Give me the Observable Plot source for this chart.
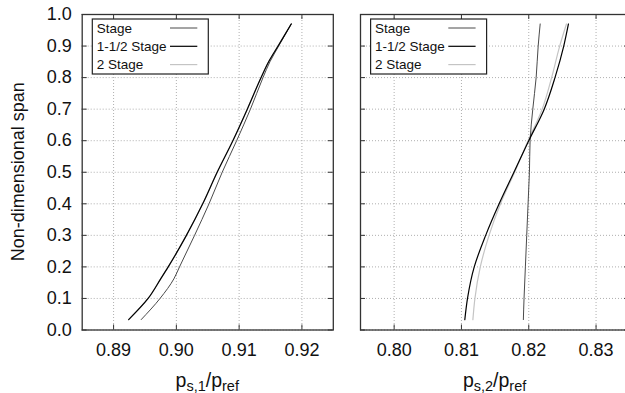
<!DOCTYPE html>
<html><head><meta charset="utf-8">
<script src="https://cdn.jsdelivr.net/npm/d3@7"></script>
<script src="https://cdn.jsdelivr.net/npm/@observablehq/plot@0.6"></script>
<style>
html,body{margin:0;padding:0;background:#fff;overflow:hidden;}
#chart{position:relative;width:625px;height:393px;overflow:hidden;font-family:"Liberation Sans",Arial,Helvetica,sans-serif;}
#chart svg{position:absolute;top:0;}
</style></head><body><div id="chart"></div>
<script>
// ---- data ----
const seriesNames = ["Stage", "1-1/2 Stage", "2 Stage"];
const xTicksL = [0.89, 0.90, 0.91, 0.92];
const xTicksR = [0.80, 0.81, 0.82, 0.83];
const yTicks = [0.0, 0.1, 0.2, 0.3, 0.4, 0.5, 0.6, 0.7, 0.8, 0.9, 1.0];

const spanL = [0.033, 0.1, 0.162, 0.2, 0.3, 0.4, 0.5, 0.6, 0.7, 0.8, 0.85, 0.9, 0.97];
const stageL = [0.8944, 0.8974, 0.8996, 0.9005, 0.9029, 0.9052, 0.9073, 0.9096, 0.9118, 0.9138, 0.9149, 0.9163, 0.9183];
const oneHalfL = [0.8924, 0.8955, 0.8975, 0.8987, 0.9016, 0.9042, 0.9065, 0.9090, 0.9113, 0.9135, 0.9147, 0.9162, 0.9183];
const twoL = [0.8924, 0.8955, 0.8975, 0.8987, 0.9016, 0.9042, 0.9065, 0.9090, 0.9113, 0.9135, 0.9147, 0.9162, 0.9183];

const spanR = [0.033, 0.1, 0.2, 0.3, 0.4, 0.5, 0.6, 0.7, 0.8, 0.9, 0.97];
const stageR = [0.8192, 0.8193, 0.8195, 0.8197, 0.8199, 0.8201, 0.8202, 0.8206, 0.8211, 0.8214, 0.8217];
const oneHalfR = [0.8105, 0.8109, 0.8119, 0.8136, 0.8156, 0.8178, 0.8200, 0.8223, 0.8239, 0.8252, 0.8259];
const twoR = [0.8117, 0.8120, 0.8128, 0.8141, 0.8158, 0.8179, 0.8199, 0.8220, 0.8234, 0.8246, 0.8256];

// ---- styles ----
const colors = {"Stage": "#4a4a4a", "1-1/2 Stage": "#000", "2 Stage": "#c4c4c4"};
const widths = {"Stage": 1, "1-1/2 Stage": 1.2, "2 Stage": 1.2};
const FONT = '"Liberation Sans", Arial, Helvetica, sans-serif';

function rows(spans, vals) { return spans.map((s, i) => ({x: vals[i], y: s})); }

function panel({width, left, marginLeft, marginRight, domain, xTicks, series, curve, yLabels, xlab}) {
  const marginTop = 14, marginBottom = 63.5, height = 393;
  const fw = width - marginLeft - marginRight, fh = height - marginTop - marginBottom;
  const marks = [
    Plot.gridX(xTicks, {stroke: "#9a9a9a", strokeOpacity: 1, strokeWidth: 0.8, strokeDasharray: "1,2"}),
    Plot.gridY(yTicks, {stroke: "#9a9a9a", strokeOpacity: 1, strokeWidth: 0.8, strokeDasharray: "1,2"}),
    Plot.tickX(xTicks, {x: d => d, stroke: "#333", strokeWidth: 1, insetTop: fh - 5}),
    Plot.tickX(xTicks, {x: d => d, stroke: "#333", strokeWidth: 1, insetBottom: fh - 5}),
    Plot.tickY(yTicks, {y: d => d, stroke: "#333", strokeWidth: 1, insetRight: fw - 5}),
    Plot.tickY(yTicks, {y: d => d, stroke: "#333", strokeWidth: 1, insetLeft: fw - 5}),
    Plot.axisX(xTicks, {tickSize: 0, tickPadding: 13, tickFormat: d3.format(".2f"), label: null, fontSize: 18, fill: "#111"}),
  ];
  if (yLabels) marks.push(Plot.axisY(yTicks, {tickSize: 0, tickPadding: 10.5, tickFormat: d3.format(".1f"), label: null, fontSize: 18, fill: "#111"}));
  for (const [name, vals, spans] of series) {
    marks.push(Plot.line(rows(spans, vals), {x: "x", y: "y", stroke: colors[name], strokeWidth: widths[name], curve}));
  }
  marks.push(Plot.frame({stroke: "#333", strokeWidth: 1.3}));
  const svg = Plot.plot({
    width, height, marginLeft, marginRight, marginTop, marginBottom,
    x: {domain}, y: yLabels ? {domain: [0, 1]} : {domain: [0, 1], axis: null},
    style: {fontFamily: FONT, fontSize: "18px", background: "transparent", overflow: "visible"},
    marks
  });
  svg.style.left = left + "px";
  const s = d3.select(svg);
  // legend
  const g = s.append("g").attr("transform", `translate(${marginLeft},${marginTop})`).attr("text-anchor", "start");
  g.append("rect").attr("x", 10.6).attr("y", 5).attr("width", 116).attr("height", 55)
    .attr("fill", "#fff").attr("stroke", "#222").attr("stroke-width", 1.2);
  seriesNames.forEach((name, i) => {
    const cy = 14 + 18.3 * i;
    g.append("text").attr("x", 15).attr("y", cy + 4.8).attr("font-size", "13.5px").attr("fill", "#111")
      .attr("text-anchor", "start").style("font-family", FONT).text(name);
    g.append("line").attr("x1", 88.3).attr("x2", 115.6).attr("y1", cy).attr("y2", cy)
      .attr("stroke", colors[name]).attr("stroke-width", widths[name]);
  });
  // x label
  const cx = marginLeft + fw / 2;
  const t = s.append("text").attr("x", cx).attr("y", 386.5).attr("text-anchor", "middle")
    .style("font-family", FONT).attr("font-size", "19.5px").attr("fill", "#111");
  t.append("tspan").text("p");
  t.append("tspan").attr("dy", 4.5).attr("font-size", "14.5px").text(xlab);
  t.append("tspan").attr("dy", -4.5).text("/p");
  t.append("tspan").attr("dy", 4.5).attr("font-size", "14.5px").text("ref");
  if (yLabels) {
    s.append("text").attr("transform", `translate(24,${marginTop + fh / 2}) rotate(-90)`)
      .attr("text-anchor", "middle").style("font-family", FONT).attr("font-size", "18px")
      .attr("fill", "#111").text("Non-dimensional span");
  }
  document.getElementById("chart").appendChild(svg);
}

panel({width: 345, left: 0, marginLeft: 81.7, marginRight: 12.2, domain: [0.885, 0.925], xTicks: xTicksL,
  series: [["2 Stage", twoL, spanL], ["Stage", stageL, spanL], ["1-1/2 Stage", oneHalfL, spanL]],
  curve: "monotone-y", yLabels: true, xlab: "s,1"});
panel({width: 290, left: 347, marginLeft: 13, marginRight: 7.8, domain: [0.795, 0.835], xTicks: xTicksR,
  series: [["2 Stage", twoR, spanR], ["Stage", stageR, spanR], ["1-1/2 Stage", oneHalfR, spanR]],
  curve: "monotone-y", yLabels: false, xlab: "s,2"});
</script></body></html>
